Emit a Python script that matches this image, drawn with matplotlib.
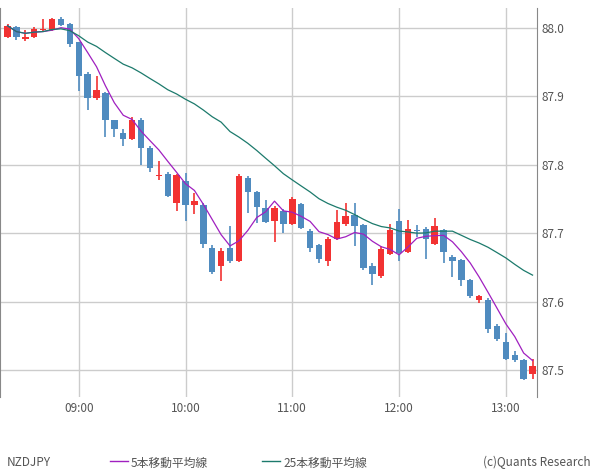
import numpy as np
import pandas as pd
import matplotlib.pyplot as plt
from matplotlib.lines import Line2D

# 5-minute candles, 08:20 - 13:15
opens = [87.987, 88.001, 87.984, 87.987, 87.997, 87.997, 88.013, 88.006, 87.979, 87.933,
         87.897, 87.905, 87.866, 87.847, 87.838, 87.866, 87.824, 87.784, 87.787, 87.744,
         87.777, 87.742, 87.742, 87.679, 87.652, 87.679, 87.660, 87.781, 87.760, 87.737,
         87.718, 87.732, 87.714, 87.743, 87.704, 87.683, 87.659, 87.692, 87.713, 87.727,
         87.712, 87.653, 87.637, 87.670, 87.718, 87.673, 87.705, 87.707, 87.685, 87.705,
         87.666, 87.661, 87.632, 87.602, 87.603, 87.565, 87.542, 87.522, 87.515, 87.494]
closes = [88.003, 87.986, 87.987, 87.999, 87.998, 88.013, 88.004, 87.977, 87.929, 87.897,
          87.909, 87.865, 87.853, 87.838, 87.866, 87.824, 87.796, 87.785, 87.755, 87.785,
          87.741, 87.747, 87.684, 87.644, 87.674, 87.659, 87.784, 87.760, 87.738, 87.716,
          87.737, 87.713, 87.750, 87.708, 87.679, 87.662, 87.692, 87.717, 87.725, 87.710,
          87.650, 87.640, 87.677, 87.705, 87.671, 87.707, 87.704, 87.691, 87.710, 87.673,
          87.660, 87.632, 87.608, 87.608, 87.561, 87.545, 87.517, 87.515, 87.488, 87.506]
highs = [88.005, 88.003, 87.997, 88.001, 88.013, 88.015, 88.016, 88.007, 87.980, 87.935,
         87.930, 87.907, 87.860, 87.852, 87.870, 87.868, 87.828, 87.806, 87.790, 87.787,
         87.788, 87.759, 87.744, 87.683, 87.679, 87.711, 87.786, 87.783, 87.762, 87.749,
         87.740, 87.735, 87.753, 87.745, 87.706, 87.685, 87.694, 87.734, 87.744, 87.744,
         87.714, 87.657, 87.681, 87.714, 87.735, 87.719, 87.712, 87.709, 87.722, 87.707,
         87.668, 87.663, 87.634, 87.610, 87.605, 87.568, 87.554, 87.528, 87.517, 87.517]
lows = [87.985, 87.983, 87.981, 87.985, 87.996, 87.995, 88.003, 87.972, 87.908, 87.880,
        87.895, 87.840, 87.840, 87.828, 87.836, 87.800, 87.790, 87.778, 87.753, 87.733,
        87.718, 87.728, 87.679, 87.641, 87.631, 87.657, 87.658, 87.730, 87.715, 87.715,
        87.687, 87.701, 87.712, 87.706, 87.673, 87.657, 87.652, 87.690, 87.711, 87.682,
        87.646, 87.625, 87.635, 87.668, 87.660, 87.671, 87.695, 87.663, 87.683, 87.657,
        87.636, 87.623, 87.606, 87.598, 87.555, 87.543, 87.515, 87.512, 87.486, 87.488]

times = pd.date_range("2024-01-01 08:20", periods=len(opens), freq="5min")
x = np.arange(len(opens))
c = pd.Series(closes)
ma5 = c.rolling(5, min_periods=1).mean()
ma25 = c.rolling(25, min_periods=1).mean()

RED = "#f23232"
BLUE = "#4f8bbf"
plt.rcParams["font.family"] = "Noto Sans CJK JP"

fig = plt.figure(figsize=(6.0, 4.75), dpi=100)
ax = fig.add_axes([0.0, 1 - 397 / 475, 537 / 600, 389 / 475])

for i in x:
    col = RED if closes[i] >= opens[i] else BLUE
    ax.vlines(i, lows[i], highs[i], color=col, lw=1.2, zorder=3)
    lo, hi = min(opens[i], closes[i]), max(opens[i], closes[i])
    h = max(hi - lo, 0.0015)
    if hi - lo < 0.0015:
        lo = (lo + hi) / 2 - h / 2
    ax.bar(i, h, bottom=lo, width=0.72, color=col, zorder=4)

ax.plot(x, ma5, color="#a020c0", lw=0.9, zorder=5)
ax.plot(x, ma25, color="#1c7a6c", lw=0.9, zorder=5)

ax.set_xlim(-0.85, 59.5)
ax.set_ylim(87.461, 88.029)
ax.yaxis.tick_right()
ax.set_yticks([87.5, 87.6, 87.7, 87.8, 87.9, 88.0])
ax.set_yticklabels(["87.5", "87.6", "87.7", "87.8", "87.9", "88.0"])
hours = [i for i in x if times[i].minute == 0]
ax.set_xticks(hours)
ax.set_xticklabels([times[i].strftime("%H:%M") for i in hours])
ax.tick_params(colors="#555555", labelsize=8.5, length=0)
ax.grid(color="#cccccc", lw=1)
ax.set_axisbelow(True)
for s in ["top", "bottom"]:
    ax.spines[s].set_visible(False)
ax.spines["left"].set_color("#888888")
ax.spines["right"].set_color("#888888")

fig.text(0.012, 0.018, "NZDJPY", fontsize=8.5, color="#555555")
fig.lines.append(Line2D([110 / 600, 128 / 600], [0.03, 0.03], color="#a020c0", lw=1, transform=fig.transFigure))
fig.text(131 / 600, 0.018, "5本移動平均線", fontsize=8.5, color="#555555")
fig.lines.append(Line2D([262 / 600, 280 / 600], [0.03, 0.03], color="#1c7a6c", lw=1, transform=fig.transFigure))
fig.text(283 / 600, 0.018, "25本移動平均線", fontsize=8.5, color="#555555")
fig.text(0.985, 0.018, "(c)Quants Research", fontsize=8.5, color="#555555", ha="right")

fig.savefig("out.png", dpi=100)
